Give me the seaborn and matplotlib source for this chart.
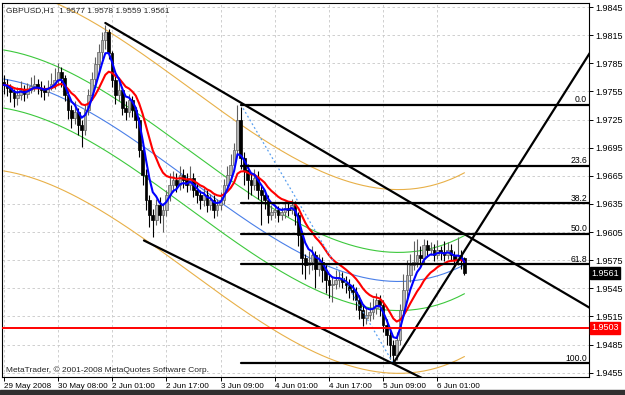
import numpy as np
import pandas as pd
import matplotlib
matplotlib.use("Agg")
import matplotlib.pyplot as plt
import matplotlib.transforms as mtrans
import seaborn as sns

# GBPUSD H1 bars, prices stored in pips (9762 -> 1.9762)
open_first = 9765
close_pips = [
    9762, 9759, 9754, 9748, 9751, 9757, 9752, 9757, 9761, 9763,
    9759, 9757, 9754, 9759, 9763, 9767, 9776, 9769, 9751, 9735,
    9727, 9733, 9719, 9714, 9735, 9751, 9768, 9784, 9797, 9810,
    9818, 9796, 9767, 9751, 9756, 9737, 9733, 9746, 9735, 9724,
    9692, 9666, 9639, 9623, 9618, 9634, 9623, 9628, 9644, 9655,
    9660, 9655, 9666, 9660, 9655, 9663, 9650, 9644, 9639, 9644,
    9634, 9639, 9628, 9634, 9639, 9655, 9666, 9676, 9692, 9724,
    9684, 9671, 9660, 9655, 9663, 9650, 9644, 9639, 9623, 9626,
    9628, 9623, 9626, 9631, 9628, 9634, 9623, 9602, 9577, 9570,
    9573, 9580, 9566, 9573, 9564, 9554, 9548, 9550, 9554, 9556,
    9552, 9548, 9543, 9541, 9532, 9522, 9513, 9516, 9520, 9524,
    9532, 9527, 9506, 9495, 9484, 9474, 9490, 9522, 9543, 9559,
    9570, 9573, 9580, 9577, 9591, 9586, 9586, 9580, 9586, 9584,
    9580, 9586, 9580, 9575, 9580, 9577, 9561,
]
high_pips = [
    9772, 9768, 9763, 9758, 9760, 9766, 9762, 9764, 9770, 9772,
    9768, 9766, 9762, 9767, 9775, 9780, 9785, 9781, 9772, 9755,
    9741, 9745, 9737, 9724, 9740, 9758, 9776, 9792, 9806, 9818,
    9826, 9822, 9798, 9772, 9765, 9760, 9745, 9752, 9750, 9738,
    9728, 9698, 9672, 9645, 9630, 9640, 9642, 9636, 9650, 9668,
    9670, 9668, 9675, 9672, 9668, 9675, 9668, 9656, 9650, 9652,
    9650, 9646, 9644, 9640, 9648, 9662, 9675, 9688, 9700, 9741,
    9738, 9690, 9678, 9668, 9672, 9670, 9655, 9650, 9645, 9634,
    9635, 9633, 9632, 9638, 9636, 9640, 9638, 9626, 9606, 9582,
    9585, 9590, 9585, 9582, 9578, 9570, 9560, 9558, 9565, 9565,
    9562, 9558, 9555, 9550, 9546, 9538, 9528, 9524, 9530, 9535,
    9540, 9538, 9532, 9512, 9500, 9490, 9498, 9528, 9560, 9575,
    9582, 9595, 9598, 9590, 9598, 9596, 9594, 9592, 9596, 9590,
    9595, 9594, 9592, 9585, 9600, 9586, 9578,
]
low_pips = [
    9752, 9750, 9744, 9738, 9740, 9746, 9745, 9748, 9753, 9755,
    9752, 9749, 9746, 9750, 9756, 9758, 9762, 9760, 9745, 9726,
    9716, 9720, 9708, 9696, 9708, 9730, 9746, 9762, 9776, 9790,
    9800, 9790, 9760, 9742, 9745, 9730, 9725, 9728, 9728, 9716,
    9685, 9655, 9628, 9610, 9600, 9612, 9615, 9605, 9622, 9638,
    9648, 9648, 9650, 9652, 9648, 9650, 9642, 9636, 9630, 9633,
    9626, 9628, 9620, 9622, 9628, 9635, 9650, 9660, 9670, 9688,
    9672, 9655, 9640, 9645, 9650, 9640, 9612, 9630, 9615, 9618,
    9620, 9616, 9618, 9620, 9622, 9624, 9612, 9590, 9560, 9555,
    9560, 9565, 9545, 9558, 9552, 9540, 9535, 9530, 9544, 9546,
    9545, 9540, 9535, 9532, 9522, 9512, 9505, 9507, 9510, 9512,
    9518, 9515, 9498, 9485, 9470, 9465, 9468, 9485, 9515, 9535,
    9552, 9565, 9568, 9570, 9572, 9578, 9580, 9574, 9576, 9575,
    9574, 9576, 9574, 9568, 9570, 9566, 9559,
]

time_labels = ["29 May 2008", "30 May 08:00", "2 Jun 01:00", "2 Jun 17:00",
               "3 Jun 09:00", "4 Jun 01:00", "4 Jun 17:00", "5 Jun 09:00",
               "6 Jun 01:00"]
bars_per_label = 16
price_ticks = [1.9845, 1.9815, 1.9785, 1.9755, 1.9725, 1.9695, 1.9665,
               1.9635, 1.9605, 1.9575, 1.9545, 1.9515, 1.9485, 1.9455]

# polynomial regression channel, centre line
reg_bars = [0, 34, 70, 97, 115, 136]
reg_pips = [9769, 9711, 9625, 9568, 9548, 9572]
green_band = 0.0031
orange_band = 0.0098

# objects drawn on the chart
fib_start_bar, fib_end_bar = 70, 115
fib_high, fib_low = 1.9741, 1.9465
fib_levels = [0.0, 23.6, 38.2, 50.0, 61.8, 100.0]
channel_top = [(30, 1.9828), (70, 1.9743)]
channel_bottom = [(41.4, 1.9596), (122.5, 1.9451)]
trend_up = [(115, 1.9465), (173, 1.9796)]
support_level = 1.9503

# --- build dataframe ---
close = 1 + np.array(close_pips) / 10000
high = 1 + np.array(high_pips) / 10000
low = 1 + np.array(low_pips) / 10000
opens = np.concatenate([[1 + open_first / 10000], close[:-1]])
df = pd.DataFrame({"bar": np.arange(len(close)), "open": opens, "high": high,
                   "low": low, "close": close})
df["ma_fast"] = df["close"].ewm(span=5, adjust=False).mean()
df["ma_slow"] = df["close"].ewm(span=13, adjust=False).mean()
coef = np.polyfit(reg_bars, 1 + np.array(reg_pips) / 10000, 3)
df["reg"] = np.polyval(coef, df["bar"])

XMAX = 172.8
YMIN, YMAX = 1.94504, 1.98493

sns.set_style("white")
plt.rcParams["font.family"] = ["Liberation Sans", "DejaVu Sans"]
fig = plt.figure(figsize=(6.25, 3.95), dpi=100)
ax = fig.add_axes([0.0032, 0.0456, 0.9394, 0.9468])

# grid
for i in range(len(time_labels)):
    ax.axvline(i * bars_per_label, color="#c8c8c8", lw=0.6, ls=(0, (3, 3)), zorder=0)
for p in price_ticks:
    ax.axhline(p, color="#c8c8c8", lw=0.6, ls=(0, (3, 3)), zorder=0)

# regression channel
for off, col in [(0, "#4a7fe8"), (green_band, "#3cc83c"), (-green_band, "#3cc83c"),
                 (orange_band, "#e8b048"), (-orange_band, "#e8b048")]:
    sns.lineplot(x=df["bar"], y=df["reg"] + off, ax=ax, color=col, lw=0.8, zorder=1)

# candles
up = df["close"] >= df["open"]
ax.vlines(df["bar"], df["low"], df["high"], color=np.where(up, "#606060", "black"),
          lw=0.8, zorder=2)
body_lo = df[["open", "close"]].min(axis=1)
body_h = (df["close"] - df["open"]).abs().clip(lower=0.00008)
ax.bar(df["bar"][up], body_h[up], bottom=body_lo[up], width=0.8,
       color="#b4b4b4", edgecolor="#606060", lw=0.5, zorder=3)
ax.bar(df["bar"][~up], body_h[~up], bottom=body_lo[~up], width=0.8,
       color="black", edgecolor="black", lw=0.5, zorder=3)

# moving averages
sns.lineplot(x=df["bar"], y=df["ma_slow"], ax=ax, color="#ff0000", lw=1.5, zorder=4)
sns.lineplot(x=df["bar"], y=df["ma_fast"], ax=ax, color="#0000ff", lw=1.5, zorder=5)


def ray(pts, x_end):
    (x0, y0), (x1, y1) = pts
    slope = (y1 - y0) / (x1 - x0)
    return [x0, x_end], [y0, y0 + slope * (x_end - x0)]


xs, ys = ray(channel_top, XMAX + 5)
ax.plot(xs, ys, color="black", lw=1.6, zorder=6)
xs, ys = ray(channel_bottom, 130)
ax.plot(xs, ys, color="black", lw=1.6, zorder=6)
xs, ys = ray(trend_up, 180)
ax.plot(xs, ys, color="black", lw=1.6, zorder=6)

# fibonacci retracement
ax.plot([fib_start_bar, fib_end_bar], [fib_high, fib_low], color="#5aa0f0",
        lw=0.9, ls=(0, (1.5, 2)), zorder=6)
for lev in fib_levels:
    p = fib_high - (fib_high - fib_low) * lev / 100
    ax.plot([fib_start_bar, XMAX], [p, p], color="black", lw=1.6, zorder=6)
    ax.text(XMAX - 0.6, p + 0.00005, f"{lev:.1f}", ha="right", va="bottom",
            fontsize=6.2, color="black", zorder=7)

ax.axhline(support_level, color="#ff0000", lw=1.4, zorder=6)

ax.set_xlim(-0.5, XMAX)
ax.set_ylim(YMIN, YMAX)
ax.set_xlabel("")
ax.set_ylabel("")

ax.yaxis.tick_right()
ax.set_yticks(price_ticks)
ax.set_yticklabels([f"{p:.4f}" for p in price_ticks])
ax.set_xticks([i * bars_per_label for i in range(len(time_labels))])
ax.set_xticklabels(time_labels, ha="left")
ax.tick_params(axis="both", direction="out", length=3, width=0.7, labelsize=6.5,
               colors="black", pad=1.5, right=True, bottom=True, left=False)
ax.tick_params(axis="x", labelsize=5.9)
for s in ax.spines.values():
    s.set_color("black")
    s.set_linewidth(0.8)

tr = mtrans.blended_transform_factory(ax.transAxes, ax.transData)
ax.text(1.004, close[-1], f"{close[-1]:.4f}", transform=tr, fontsize=6.5, color="white",
        va="center", ha="left", zorder=8,
        bbox=dict(boxstyle="square,pad=0.15", fc="black", ec="black"))
ax.text(1.004, support_level, f"{support_level:.4f}", transform=tr, fontsize=6.5,
        color="white", va="center", ha="left", zorder=8,
        bbox=dict(boxstyle="square,pad=0.15", fc="#ff0000", ec="#ff0000"))

ohlc = df.iloc[-1]
ax.text(0.006, 0.99, f"GBPUSD,H1  {ohlc['open']:.4f} {ohlc['high']:.4f} "
        f"{ohlc['low']:.4f} {ohlc['close']:.4f}", transform=ax.transAxes,
        fontsize=6, va="top", ha="left", zorder=8)
ax.text(0.006, 0.008, "MetaTrader, \u00a9 2001-2008 MetaQuotes Software Corp.",
        transform=ax.transAxes, fontsize=6, va="bottom", ha="left", zorder=8)

fig.patches.append(plt.Rectangle((0, 0), 1, 0.012, transform=fig.transFigure,
                                 color="#303030", zorder=10))

fig.savefig("out.png", dpi=100)
